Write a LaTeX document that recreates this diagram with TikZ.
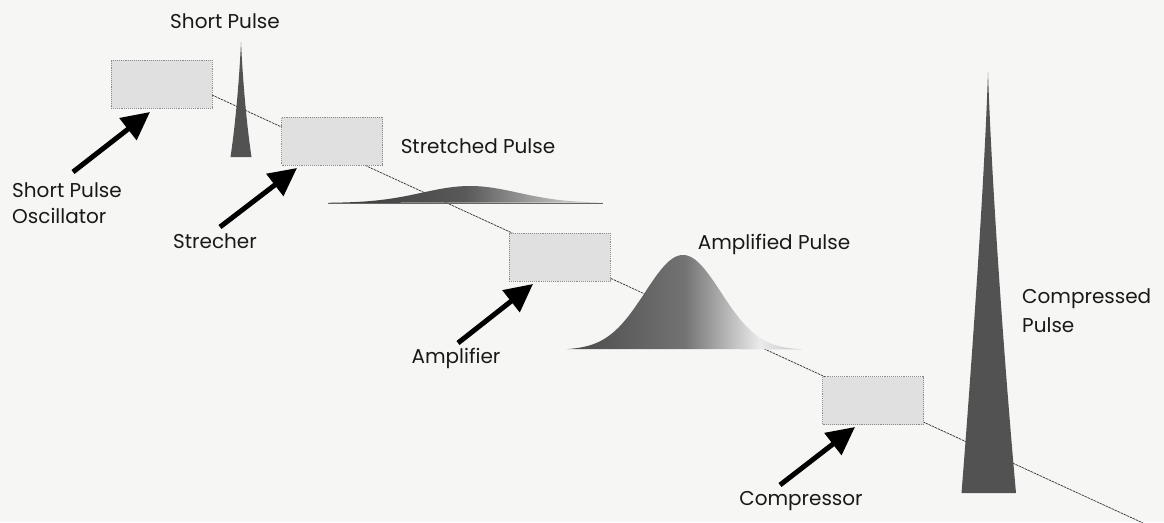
\documentclass[tikz,border=0pt]{standalone}
\usepackage{fontspec}
\setmainfont{Poppins}
\usetikzlibrary{arrows.meta}
\definecolor{paper}{RGB}{246,246,244}
\pgfdeclarehorizontalshading{stretchsh}{100bp}{color(0bp)=(black!85); color(30bp)=(black!75); color(50bp)=(black!65); color(68bp)=(black!25); color(85bp)=(black!45); color(100bp)=(black!60)}
\pgfdeclarehorizontalshading{ampsh}{100bp}{color(0bp)=(black!85); color(30bp)=(black!68); color(50bp)=(black!55); color(66bp)=(black!8); color(82bp)=(black!35); color(100bp)=(black!65)}
\begin{document}
\begin{tikzpicture}[x=1pt,y=-1pt,
  every node/.style={font=\fontsize{20}{24}\selectfont, inner sep=0pt, text=black!90},
  unit/.style={draw=black!45, densely dotted, line width=0.9pt, fill=black!12, minimum width=101pt, minimum height=48pt, inner sep=0pt},
  beam/.style={black!80, line width=0.7pt, dash pattern=on 2.5pt off 0.8pt},
  bigarrow/.style={line width=5pt, -{Triangle[length=28pt,width=27pt]}, black},
  spike/.style={fill=black!68, draw=none}]
\useasboundingbox[fill=paper] (0,0) rectangle (1164,522);

% beam line
\coordinate (lstart) at (212,95);
\coordinate (lend) at (1143,523);
\draw[beam] (lstart) -- (lend);

% units
\node[unit] (osc) at (161.5,84) {};
\node[unit] (str) at (332,141) {};
\node[unit] (amp) at (559.5,257) {};
\node[unit] (cmp) at (873,400.5) {};

% short pulse spike
\fill[spike] (230.5,157) .. controls (236,120) and (239.5,75) .. (241,42) .. controls (242.5,75) and (246,120) .. (251.5,157) -- cycle;

% stretched pulse
\draw[black!60, line width=0.6pt] (328,203) -- (603,203);
\shade[shading=stretchsh] plot[domain=328:603, samples=120] (\x, {203-17*exp(-((\x-470)/48)^2/2)}) -- cycle;

% amplified pulse
\shade[shading=ampsh] plot[domain=567:802, samples=150] (\x, {350-95*exp(-((\x-683)/38)^2/2)}) -- cycle;

% compressed pulse spike
\fill[spike] (961.5,493) .. controls (972,360) and (984.5,180) .. (988,72) .. controls (991.5,180) and (1004,360) .. (1016,493) -- cycle;

% labels
\node[anchor=base] (lsp) at (225,28) {Short Pulse};
\node[anchor=base west] (losc1) at (12,197) {Short Pulse};
\node[anchor=base west] (losc2) at (12,223) {Oscillator};
\node[anchor=base] (lstr) at (215,248) {Strecher};
\node[anchor=base] (lstp) at (478,153) {Stretched Pulse};
\node[anchor=base] (lamp) at (456,363) {Amplifier};
\node[anchor=base] (lamps) at (774,249) {Amplified Pulse};
\node[anchor=base] (lcmp) at (801,505) {Compressor};
\node[anchor=base west] (lcp1) at (1022,303) {Compressed};
\node[anchor=base west] (lcp2) at (1022,332) {Pulse};

% arrows
\coordinate (a1t) at (73,172);   \coordinate (a1h) at (150,112);
\coordinate (a2t) at (220,227);  \coordinate (a2h) at (297,168);
\coordinate (a3t) at (458,343);  \coordinate (a3h) at (533,284);
\coordinate (a4t) at (780,485);  \coordinate (a4h) at (855,427);
\draw[bigarrow] (a1t) -- (a1h);
\draw[bigarrow] (a2t) -- (a2h);
\draw[bigarrow] (a3t) -- (a3h);
\draw[bigarrow] (a4t) -- (a4h);
\end{tikzpicture}
\end{document}
